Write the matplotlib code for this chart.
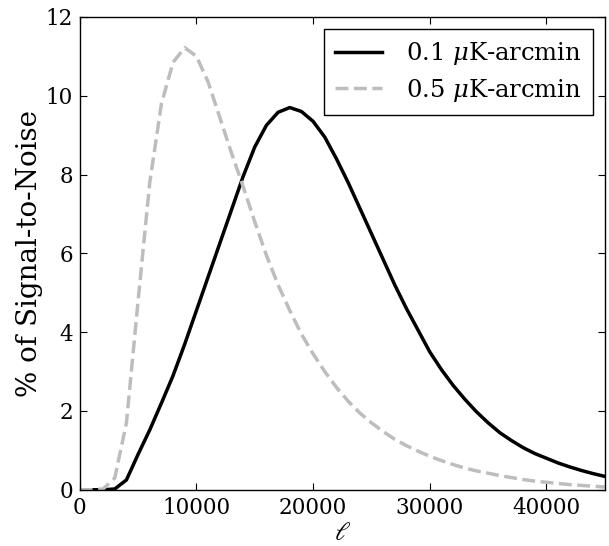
import numpy as np
import matplotlib
matplotlib.use('Agg')
import matplotlib.pyplot as plt

plt.rcParams.update({
    'font.family': 'serif', 'font.serif': ['DejaVu Serif'],
    'mathtext.fontset': 'dejavuserif',
    'xtick.direction': 'in', 'ytick.direction': 'in',
    'xtick.top': True, 'ytick.right': True,
    'xtick.major.size': 5, 'ytick.major.size': 5,
    'axes.linewidth': 1.0,
})

# multipole (ell) grid and signal-to-noise percentages
ELL = np.arange(0, 46000, 1000)
SN_01 = [0, 0, 0, 0.02, 0.25, 0.9, 1.52, 2.2, 2.9, 3.7, 4.55, 5.4, 6.25, 7.1, 7.95,
         8.7, 9.25, 9.58, 9.7, 9.6, 9.35, 8.95, 8.4, 7.8, 7.15, 6.5, 5.85, 5.2, 4.6,
         4.05, 3.5, 3.05, 2.65, 2.3, 1.98, 1.7, 1.45, 1.25, 1.07, 0.92, 0.8, 0.68,
         0.58, 0.49, 0.41, 0.34]
SN_05 = [0, 0, 0.02, 0.3, 1.7, 4.8, 7.8, 9.8, 10.85, 11.22, 11.0, 10.35, 9.45, 8.55,
         7.7, 6.8, 5.95, 5.2, 4.55, 3.95, 3.45, 3.0, 2.6, 2.25, 1.95, 1.7, 1.48,
         1.28, 1.12, 0.98, 0.85, 0.74, 0.64, 0.55, 0.48, 0.42, 0.36, 0.31, 0.26,
         0.22, 0.19, 0.16, 0.13, 0.11, 0.09, 0.07]

fig = plt.figure(figsize=(6.09, 5.46), dpi=100)
ax = fig.add_axes([0.131, 0.103, 0.862, 0.866])

ax.plot(ELL, SN_01, color='black', lw=2.5, label=r'0.1 $\mu$K-arcmin')
ax.plot(ELL, SN_05, color='#bdbdbd', lw=2.5, ls='--', label=r'0.5 $\mu$K-arcmin')

ax.set_xlim(0, 45000)
ax.set_ylim(0, 12)
ax.set_xticks([0, 10000, 20000, 30000, 40000])
ax.set_yticks([0, 2, 4, 6, 8, 10, 12])
ax.tick_params(labelsize=15.5, pad=5)
ax.set_xlabel(r'$\ell$', fontsize=19, labelpad=1)
ax.set_ylabel('% of Signal-to-Noise', fontsize=20, labelpad=2)

leg = ax.legend(loc='upper right', fontsize=17.5, fancybox=False, framealpha=1,
                edgecolor='black', handlelength=1.9, handletextpad=1.0,
                borderpad=0.45, labelspacing=0.4, borderaxespad=0.5)
leg.get_frame().set_linewidth(1.0)

fig.savefig('out.png', dpi=100, facecolor='white')
